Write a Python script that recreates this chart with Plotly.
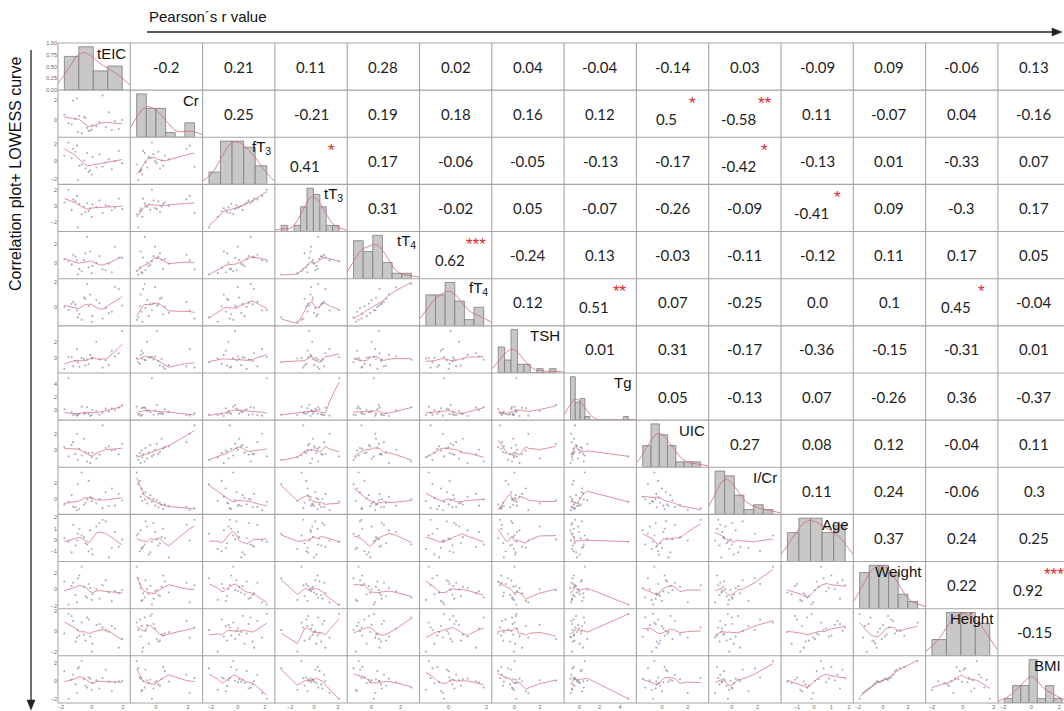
import numpy as np
import plotly.graph_objects as go

# ---------------- data (standardised values, 25 observations) ----------------
LABELS = ["tEIC", "Cr", "fT<sub>3</sub>", "tT<sub>3</sub>", "tT<sub>4</sub>", "fT<sub>4</sub>",
          "TSH", "Tg", "UIC", "I/Cr", "Age", "Weight", "Height", "BMI"]

tEIC = [-0.5, 1.3, -1.2, 0.05, -0.9, 1.97, -0.3, 0.7, -1.5, -0.1, 1.1, -0.65, -1.05,
        0.3, 0.0, -1.77, 1.5, -0.2, -0.95, 0.9, -0.4, -1.3, 1.75, -0.8, 0.5]
Cr = [0.35, -0.9, 1.9, -0.45, -1.1, 0.05, -0.7, 2.4, -0.25, -0.95, 0.8, -1.2, 0.15,
      -0.55, -0.85, 0.55, -0.05, -1.0, 2.1, -0.65, 0.25, -0.35, -0.8, 0.45, -0.15]
fT3 = [0.1, -0.9, 1.45, 0.5, -2.15, -0.2, 0.95, -0.6, 2.15, -1.05, 0.25, -0.35, 1.1,
       -0.7, -1.5, 0.65, 0.0, -1.2, 1.8, -0.1, -0.8, 0.35, 1.2, -0.5, 0.8]
tT3 = [-0.1, -0.55, 0.85, 0.2, -2.75, -0.4, 0.35, -0.9, 2.1, -0.3, 0.0, -1.05, 0.6,
       -0.15, -1.4, 0.45, -0.25, -0.65, 1.3, 0.1, -0.8, -0.5, 0.95, 0.3, 0.7]
tT4 = [0.3, -1.0, 0.85, -0.35, -1.25, 0.5, 2.75, -0.7, 0.15, 1.2, -0.1, -0.9, 0.65,
       0.0, -1.1, 0.4, 1.7, -0.5, 0.25, -0.8, 1.0, -0.2, 0.55, -0.65, 0.7]
fT4 = [0.75, -0.4, 0.4, -0.75, -0.85, 0.1, 1.85, -0.95, -0.25, 1.0, -0.5, -1.05, 0.2,
       0.55, -1.2, 0.0, 1.6, 0.05, -0.3, -0.1, 0.65, 0.25, 1.45, -0.6, 0.3]
TSH = [-0.1, 0.9, -1.0, 0.05, -0.5, 3.3, -0.2, -1.15, 0.15, 0.4, -0.85, 0.0, -0.35,
       2.0, -0.05, -1.3, 0.2, -0.7, 1.1, -0.25, -0.9, 0.1, 0.6, -1.05, -0.15]
Tg = [-0.5, 0.3, -0.75, 0.05, -0.65, 0.8, 0.45, -0.4, 4.8, -0.85, -0.2, 0.55, -0.6,
      -0.1, -0.7, 0.15, 0.0, -0.55, -0.8, 0.25, -0.45, -0.3, 0.4, -0.52, -0.68]
UIC = [1.4, 0.0, 1.0, -0.25, -1.1, 0.8, -1.3, 3.0, -0.7, -1.5, 0.5, -0.6, -0.4,
       -0.95, -0.8, 0.4, 0.1, -0.3, 2.0, 0.3, -0.15, 0.65, -0.45, 0.2, -0.5]
I_Cr = [-0.65, 1.3, -0.9, 0.15, 1.8, -0.1, 0.0, -1.05, -0.3, 0.3, -0.8, 3.2, -0.95,
        -0.5, -0.2, -0.6, -0.75, 2.2, -1.3, 0.85, -0.4, 0.5, 0.65, -1.15, 0.05]
Age = [0.25, -0.7, 1.35, -1.3, 0.55, 0.05, -0.4, 1.8, -0.15, 0.85, -1.55, 0.4, -0.5,
       1.2, -0.8, 0.15, 0.7, -1.0, -0.05, 1.65, -0.3, -1.1, -0.6, 1.0, 1.5]
Weight = [0.3, -1.45, 0.8, -0.6, 1.35, -0.1, -1.0, 0.5, -1.87, 0.15, -0.4, 2.76, -0.7,
          0.0, -1.3, 0.95, -0.25, 0.65, -1.6, 1.1, -0.85, 0.4, -0.5, 1.7, -1.15]
Height = [-0.3, 0.55, 1.05, -1.2, 0.15, -0.75, 1.4, 0.4, 1.75, -0.5, -0.05, 0.9, -1.0,
          0.65, -2.0, -0.2, 0.3, 1.2, -0.6, 0.05, -0.9, 1.55, -1.6, -0.4, 0.75]
BMI = [0.2, -1.1, 0.7, -0.2, 1.4, 0.05, -0.7, 0.34, -1.93, 0.28, -0.05, 2.2, -0.35,
       0.1, -0.95, 1.1, -0.12, 0.4, -1.3, 1.25, -0.5, 0.15, 0.0, 1.55, -0.8]

HIST_BINS = [4, 6, 5, 9, 6, 6, 9, 12, 7, 6, 5, 6, 4, 7]
TICK_STEP = [2, 2, 2, 2, 2, 2, 2, 2, 2, 2, 1, 2, 2, 2]

# Pearson r values, upper triangle (row variable vs. following columns)
r_tEIC = [-0.2, 0.21, 0.11, 0.28, 0.02, 0.04, -0.04, -0.14, 0.03, -0.09, 0.09, -0.06, 0.13]
r_Cr = [0.25, -0.21, 0.19, 0.18, 0.16, 0.12, 0.5, -0.58, 0.11, -0.07, 0.04, -0.16]
r_fT3 = [0.41, 0.17, -0.06, -0.05, -0.13, -0.17, -0.42, -0.13, 0.01, -0.33, 0.07]
r_tT3 = [0.31, -0.02, 0.05, -0.07, -0.26, -0.09, -0.41, 0.09, -0.3, 0.17]
r_tT4 = [0.62, -0.24, 0.13, -0.03, -0.11, -0.12, 0.11, 0.17, 0.05]
r_fT4 = [0.12, 0.51, 0.07, -0.25, 0.0, 0.1, 0.45, -0.04]
r_TSH = [0.01, 0.31, -0.17, -0.36, -0.15, -0.31, 0.01]
r_Tg = [0.05, -0.13, 0.07, -0.26, 0.36, -0.37]
r_UIC = [0.27, 0.08, 0.12, -0.04, 0.11]
r_ICr = [0.11, 0.24, -0.06, 0.3]
r_Age = [0.37, 0.24, 0.25]
r_Weight = [0.22, 0.92]
r_Height = [-0.15]

# significance marks: (row, column, stars)
SIGNIF = [(1, 8, "*"), (1, 9, "**"), (2, 3, "*"), (2, 9, "*"), (3, 10, "*"),
          (4, 5, "***"), (5, 7, "**"), (5, 12, "*"), (11, 13, "***")]

# ---------------- geometry / style ----------------
FIG_W, FIG_H = 1064, 711
GRID_L, GRID_T = 58.0, 43.0
CELL_W, CELL_H = 72.3, 47.14
PAD_LO, PAD_HI = 0.11, 0.14
RED = "rgba(214,105,115,0.8)"
DOT = "rgba(70,70,120,0.45)"
TICK_FONT = dict(family="Liberation Sans", size=5.5, color="#666")

DATA = [np.array(v, dtype=float) for v in
        [tEIC, Cr, fT3, tT3, tT4, fT4, TSH, Tg, UIC, I_Cr, Age, Weight, Height, BMI]]
R_ROWS = [r_tEIC, r_Cr, r_fT3, r_tT3, r_tT4, r_fT4, r_TSH, r_Tg, r_UIC, r_ICr,
          r_Age, r_Weight, r_Height]
NV = len(DATA)


def axis_range(v):
    lo, hi = v.min(), v.max()
    r = hi - lo
    return lo - PAD_LO * r, hi + PAD_HI * r


RANGES = [axis_range(v) for v in DATA]


def lowess(x, y, frac=0.5, iters=1):
    order = np.argsort(x, kind="mergesort")
    xs, ys = x[order], y[order]
    n = len(xs)
    r = int(np.ceil(frac * n))
    fit = np.zeros(n)
    delta = np.ones(n)
    for _ in range(iters + 1):
        for i in range(n):
            d = np.abs(xs - xs[i])
            h = max(np.sort(d)[r - 1], 1e-9)
            w = np.clip(d / h, 0, 1)
            w = (1 - w ** 3) ** 3 * delta
            sw = w.sum()
            mx = (w * xs).sum() / sw
            my = (w * ys).sum() / sw
            vx = (w * (xs - mx) ** 2).sum()
            b = (w * (xs - mx) * (ys - my)).sum() / vx if vx > 1e-12 else 0.0
            fit[i] = my + b * (xs[i] - mx)
        res = ys - fit
        s = np.median(np.abs(res))
        u = np.clip(res / (6 * s + 1e-12), -1, 1)
        delta = (1 - u ** 2) ** 2
    return xs, fit


def kde(v, grid):
    n = len(v)
    h = v.std(ddof=1) * n ** (-0.2)
    z = (grid[:, None] - v[None, :]) / h
    return np.exp(-0.5 * z ** 2).sum(axis=1) / (n * h * np.sqrt(2 * np.pi))


def ticks(lo, hi, step):
    t = np.arange(np.ceil(lo / step) * step, hi + 1e-9, step)
    return [float(round(a, 6)) + 0.0 for a in t]


def px(x):
    return x / FIG_W


def py(y):
    return 1 - y / FIG_H


fig = go.Figure()
lay = {}
k = 0
for i in range(NV):
    for j in range(i + 1):
        k += 1
        sx = "" if k == 1 else str(k)
        x0 = GRID_L + j * CELL_W
        x1 = x0 + CELL_W
        lo, hi = RANGES[j]
        if x1 > FIG_W:
            hi = lo + (hi - lo) * (FIG_W - x0) / CELL_W
            x1 = FIG_W
        ytop = GRID_T + i * CELL_H
        ybot = ytop + CELL_H
        lay["xaxis" + sx] = dict(
            domain=[px(x0), px(x1)], anchor="y" + sx, range=[lo, hi],
            showgrid=False, zeroline=False, showline=False, automargin=False,
            fixedrange=True, tickvals=ticks(lo, hi, TICK_STEP[j]),
            showticklabels=(i == NV - 1), ticks="", tickfont=TICK_FONT)
        ydom = [py(ybot), py(ytop)]
        if i == j:
            lay["yaxis" + sx] = dict(
                domain=ydom, anchor="x" + sx, range=[0, 1], showgrid=False,
                zeroline=False, showline=False, automargin=False, fixedrange=True,
                tickvals=[0, 0.25, 0.5, 0.75, 1.0], tickformat=".2f",
                showticklabels=(j == 0), ticks="", tickfont=TICK_FONT)
            v = DATA[i]
            counts, edges = np.histogram(v, bins=HIST_BINS[i])
            scale = 0.92 / counts.max()
            fig.add_trace(go.Bar(
                x=(edges[:-1] + edges[1:]) / 2, y=counts * scale, width=np.diff(edges),
                marker=dict(color="#c8c8c8", line=dict(color="#7c7c7c", width=0.8)),
                xaxis="x" + sx, yaxis="y" + sx, hoverinfo="skip"))
            grid = np.linspace(RANGES[i][0], RANGES[i][1], 120)
            dens = kde(v, grid) * len(v) * (edges[1] - edges[0]) * scale
            fig.add_trace(go.Scatter(
                x=grid, y=dens, mode="lines", line=dict(color=RED, width=1),
                xaxis="x" + sx, yaxis="y" + sx, hoverinfo="skip"))
        else:
            ylo, yhi = RANGES[i]
            lay["yaxis" + sx] = dict(
                domain=ydom, anchor="x" + sx, range=[ylo, yhi], showgrid=False,
                zeroline=False, showline=False, automargin=False, fixedrange=True,
                tickvals=ticks(ylo, yhi, TICK_STEP[i]),
                showticklabels=(j == 0), ticks="", tickfont=TICK_FONT)
            fig.add_trace(go.Scatter(
                x=DATA[j], y=DATA[i], mode="markers",
                marker=dict(size=2.1, color=DOT),
                xaxis="x" + sx, yaxis="y" + sx, hoverinfo="skip"))
            lx, ly = lowess(DATA[j], DATA[i])
            fig.add_trace(go.Scatter(
                x=lx, y=ly, mode="lines", line=dict(color=RED, width=0.9),
                xaxis="x" + sx, yaxis="y" + sx, hoverinfo="skip"))

# ---------------- annotations ----------------
ann = []
sig = {(a, b): s for a, b, s in SIGNIF}
for i in range(NV - 1):
    for j in range(i + 1, NV):
        val = R_ROWS[i][j - i - 1]
        cx = GRID_L + (j + 0.5) * CELL_W
        cy = GRID_T + (i + 0.5) * CELL_H
        if (i, j) in sig:
            tx, ty = cx - 6, cy + 5
            ann.append(dict(x=px(cx + 20), y=py(GRID_T + i * CELL_H + 13),
                            xref="paper", yref="paper", text=sig[(i, j)], showarrow=False,
                            xanchor="center", yanchor="middle",
                            font=dict(family="Liberation Sans", size=17, color="#e0282a")))
        else:
            tx, ty = cx, cy
        ann.append(dict(x=px(tx), y=py(ty), xref="paper", yref="paper",
                        text=str(val), showarrow=False, xanchor="center", yanchor="middle",
                        font=dict(family="Lato", size=15, color="#1e1e1e")))

for i in range(NV):
    ann.append(dict(x=px(min(GRID_L + (i + 1) * CELL_W - 2, FIG_W - 1)),
                    y=py(GRID_T + i * CELL_H + 10),
                    xref="paper", yref="paper", text=LABELS[i], showarrow=False,
                    xanchor="right", yanchor="middle",
                    font=dict(family="Liberation Sans", size=15, color="#111")))

ann.append(dict(x=px(147), y=py(17), xref="paper", yref="paper",
                text="Pearson\u00b4s r value", showarrow=False, xanchor="left",
                yanchor="middle", font=dict(family="Liberation Sans", size=15, color="#111")))
ann.append(dict(x=px(15), y=py(174), xref="paper", yref="paper",
                text="Correlation plot+ LOWESS curve", showarrow=False, textangle=-90,
                xanchor="center", yanchor="middle",
                font=dict(family="Liberation Sans", size=16, color="#111")))

# ---------------- cell frame lines and arrows ----------------
shapes = []
gb = GRID_T + NV * CELL_H
for i in range(NV + 1):
    yy = py(GRID_T + i * CELL_H)
    shapes.append(dict(type="line", xref="paper", yref="paper", x0=px(GRID_L), x1=1,
                       y0=yy, y1=yy, line=dict(color="#a6a6a6", width=1.1)))
for j in range(NV + 1):
    xx = px(GRID_L + j * CELL_W)
    if xx > 1:
        continue
    shapes.append(dict(type="line", xref="paper", yref="paper", x0=xx, x1=xx,
                       y0=py(GRID_T), y1=py(gb), line=dict(color="#a6a6a6", width=1.1)))

ARROW = "#222"
shapes.append(dict(type="line", xref="paper", yref="paper", x0=px(147), x1=px(1054),
                   y0=py(32), y1=py(32), line=dict(color=ARROW, width=1.3)))
shapes.append(dict(type="path", xref="paper", yref="paper",
                   path=f"M{px(1062)},{py(32)} L{px(1052)},{py(28)} L{px(1052)},{py(36)} Z",
                   fillcolor=ARROW, line=dict(color=ARROW, width=0.5)))
shapes.append(dict(type="line", xref="paper", yref="paper", x0=px(31), x1=px(31),
                   y0=py(50), y1=py(701), line=dict(color=ARROW, width=1.3)))
shapes.append(dict(type="path", xref="paper", yref="paper",
                   path=f"M{px(31)},{py(710)} L{px(27)},{py(700)} L{px(35)},{py(700)} Z",
                   fillcolor=ARROW, line=dict(color=ARROW, width=0.5)))

fig.update_layout(
    template="none", width=FIG_W, height=FIG_H,
    margin=dict(l=0, r=0, t=0, b=0), showlegend=False, barmode="overlay",
    plot_bgcolor="white", paper_bgcolor="white",
    font=dict(family="Liberation Sans"),
    annotations=ann, shapes=shapes, **lay)

fig.write_html("out.html")
